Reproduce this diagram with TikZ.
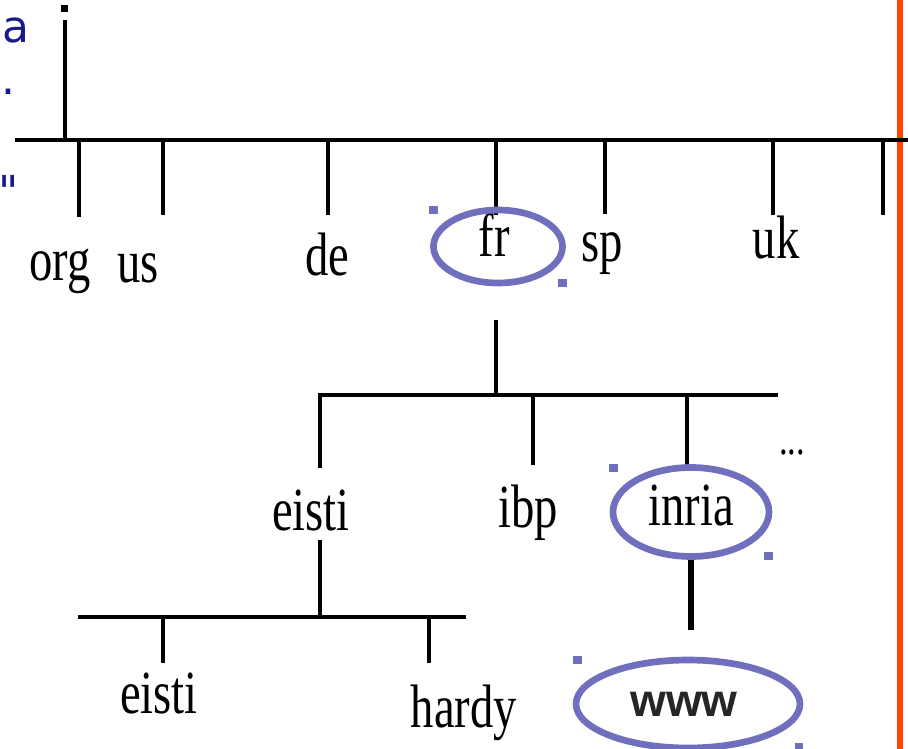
\documentclass[tikz,border=0pt]{standalone}
\usepackage{fontspec}
\setmainfont{Liberation Serif}
\newfontfamily\treefont[FakeStretch=0.76]{Liberation Serif}
\newfontfamily\slidefont{DejaVu Sans}
\newfontfamily\hostfont{Liberation Sans}
\usetikzlibrary{shapes.geometric}

\definecolor{ovalblue}{RGB}{111,111,189}
\definecolor{slidenavy}{RGB}{26,26,140}
\definecolor{edgered}{RGB}{255,69,0}
\definecolor{wwwgrey}{RGB}{38,38,38}

\tikzset{every picture/.style={line width=0.75pt}}
\tikzset{
  tld/.style={font=\treefont\fontsize{46}{50}\selectfont, inner sep=0pt, anchor=base},
  slidetext/.style={font=\slidefont\fontsize{33}{38}\selectfont, text=slidenavy, inner sep=0pt, anchor=base west},
  stub/.style={line width=2.3pt},
  spine/.style={line width=2.5pt},
  oval/.style={draw=ovalblue, line width=5pt, ellipse, inner sep=0pt},
}

\begin{document}
\begin{tikzpicture}[x=0.75pt,y=0.75pt,yscale=-1,xscale=1]
\useasboundingbox (0,0) rectangle (908,749);
\clip (0,0) rectangle (908,749);

%Text fragments at the left edge
\node[slidetext] (fragA) at (2,43) {a};
\node[slidetext] (fragDot) at (1,95) {.};
\node[slidetext] (fragQuote) at (-2,208) {"};

%Straight Lines: right border
\coordinate (borderTop) at (900,0);
\coordinate (borderBot) at (900,749);
\draw[edgered, line width=4.2pt] (borderTop) -- (borderBot);

%Shape: root stem
\fill (61,5) rectangle (68,12);
\coordinate (rootTop) at (65,20);
\coordinate (rootFoot) at (65,140);
\draw[spine] (rootTop) -- (rootFoot);

%Straight Lines: top level bar
\coordinate (topL) at (15,140);
\coordinate (topR) at (908,140);
\draw[spine] (topL) -- (topR);
\foreach \n/\x/\y in {org/79/217, us/163/215, de/328/215, fr/496/215, sp/605/214, uk/773/215, more/883/215}{
  \coordinate (\n Up) at (\x,140);
  \coordinate (\n Down) at (\x,\y);
  \draw[stub] (\n Up) -- (\n Down);
}

%Top level domains
\node[tld] (org) at (60,280) {org};
\node[tld] (us) at (138,282) {us};
\node[tld] (de) at (327,275) {de};
\node[tld] (fr) at (494,257) {fr};
\node[tld] (sp) at (602,262) {sp};
\node[tld] (uk) at (776,258) {uk};

%Shape: Ellipse around fr
\node[oval, minimum width=96.75pt, minimum height=54.75pt] (frOval) at (498,246.5) {};
\fill[ovalblue] (429,206) rectangle (438,214);
\fill[ovalblue] (558,279) rectangle (567,287);

%Straight Lines: fr sub bar
\coordinate (frLink) at (496,320);
\coordinate (frBar) at (496,395);
\draw[stub] (frLink) -- (frBar);
\coordinate (subL) at (318,395);
\coordinate (subR) at (778,395);
\draw[spine] (subL) -- (subR);
\foreach \n/\x/\y in {eisti/320/468, ibp/533/465, inria/687/465}{
  \coordinate (\n Up) at (\x,395);
  \coordinate (\n Down) at (\x,\y);
  \draw[stub] (\n Up) -- (\n Down);
}

%Second level domains
\node[tld] (eisti) at (311,530) {eisti};
\node[tld] (ibp) at (528,527) {ibp};
\node[tld] (inria) at (691,525) {inria};
\node[tld, font=\treefont\fontsize{34}{40}\selectfont] (dots) at (792,454) {...};

%Shape: Ellipse around inria
\node[oval, minimum width=117pt, minimum height=66.75pt] (inriaOval) at (691,512) {};
\fill[ovalblue] (609,464) rectangle (618,472);
\fill[ovalblue] (764,552) rectangle (773,560);

%Straight Lines: eisti sub bar
\coordinate (eistiLink) at (320,540);
\coordinate (eistiBar) at (320,617);
\draw[stub] (eistiLink) -- (eistiBar);
\coordinate (lowL) at (78,617);
\coordinate (lowR) at (466,617);
\draw[spine] (lowL) -- (lowR);
\foreach \n/\x in {host/163, hardy/429}{
  \coordinate (\n Up) at (\x,617);
  \coordinate (\n Down) at (\x,663);
  \draw[stub] (\n Up) -- (\n Down);
}

%Hosts
\node[tld] (host) at (159,713) {eisti};
\node[tld] (hardy) at (464,727) {hardy};

%Straight Lines: inria to www
\coordinate (wwwLink) at (691,630);
\draw[line width=4.3pt] (inriaOval.south) -- (wwwLink);

%Shape: Ellipse around www
\node[font=\hostfont\bfseries\fontsize{34.5}{40}\selectfont, text=wwwgrey, inner sep=0pt] (www) at (684,704) {www};
\node[oval, minimum width=168pt, minimum height=66pt] (wwwOval) at (688,704) {};
\fill[ovalblue] (573,656) rectangle (582,664);
\fill[ovalblue] (795,743) rectangle (803,751);

\end{tikzpicture}
\end{document}
